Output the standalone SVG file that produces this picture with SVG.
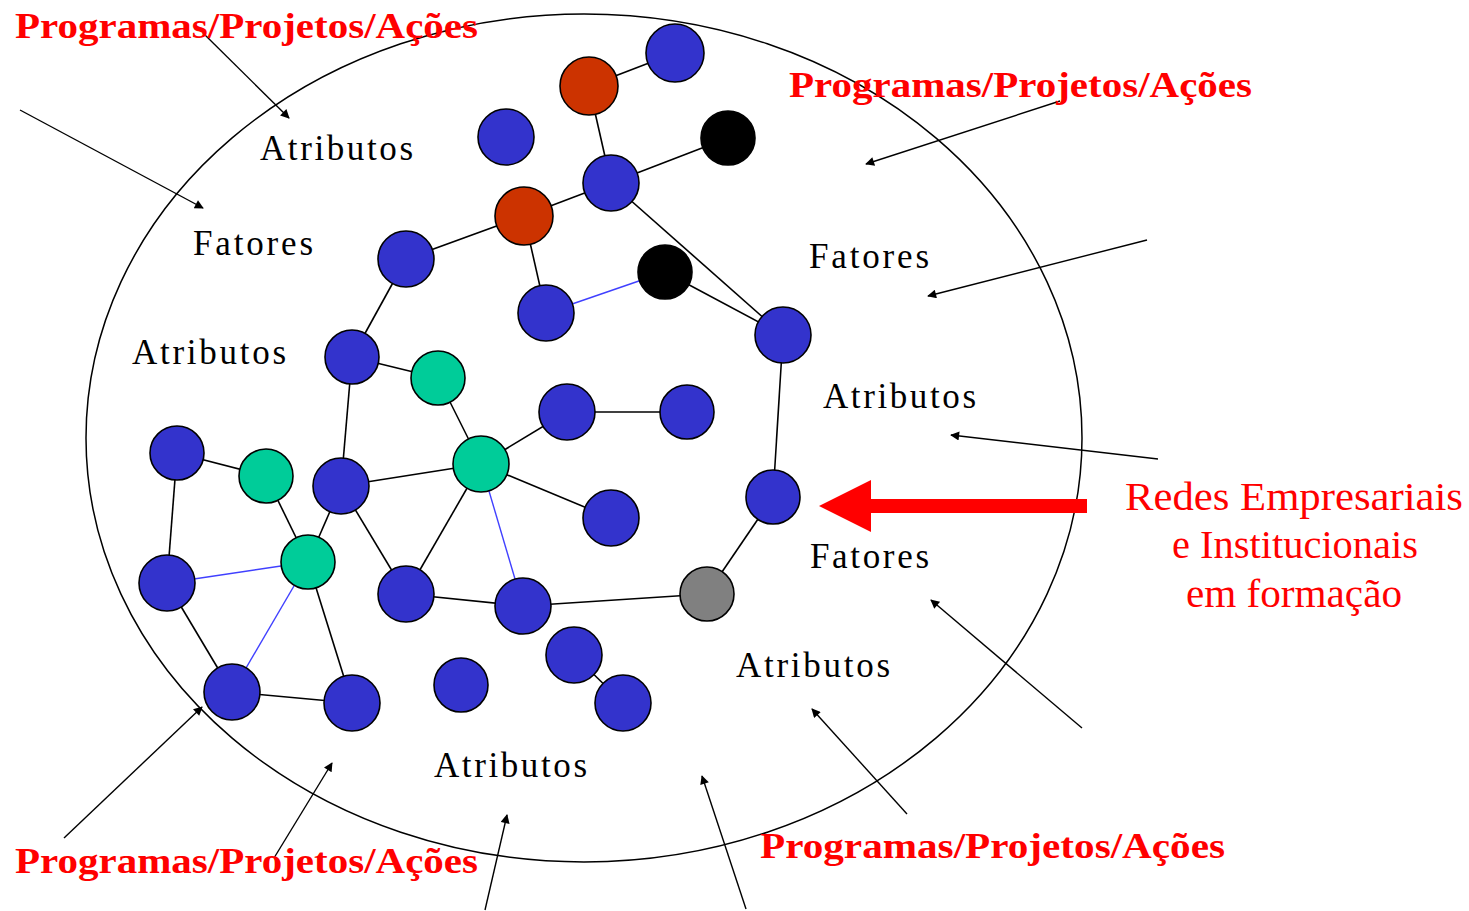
<svg xmlns="http://www.w3.org/2000/svg" width="1469" height="911" viewBox="0 0 1469 911">
<defs>
<style>
.bg{fill:#ffffff}
.outline{fill:none;stroke:#000;stroke-width:1.5}
.e{stroke:#000;stroke-width:1.6;fill:none}
.eb{stroke:#4040ff;stroke-width:1.4;fill:none}
.ptr{stroke:#000;stroke-width:1.4;fill:none;marker-end:url(#ah)}
.n circle{stroke:#000;stroke-width:1.6}
.blue{fill:#3333cc}
.red{fill:#cc3300}
.green{fill:#00cc99}
.black{fill:#000000}
.gray{fill:#808080}
.ppa{font-family:"Liberation Serif","Times New Roman",serif;font-weight:bold;font-size:35px;fill:#ff0000}
.lbl{font-family:"Liberation Serif","Times New Roman",serif;font-size:35px;fill:#000}
.redes{font-family:"Liberation Serif","Times New Roman",serif;font-size:41px;fill:#ff0000;text-anchor:middle}
</style>
<marker id="ah" viewBox="0 0 10 10" refX="9" refY="5" markerWidth="11" markerHeight="9" markerUnits="userSpaceOnUse" orient="auto">
<path d="M0,0 L10,5 L0,10 z" fill="#000"/>
</marker>
</defs>
<rect class="bg" x="0" y="0" width="1469" height="911"/>
<ellipse id="boundary" class="outline" cx="584" cy="438" rx="498" ry="424"/>

<g id="connectors">
<line class="e" x1="589" y1="86" x2="675" y2="53"/>
<line class="e" x1="589" y1="86" x2="611" y2="183"/>
<line class="e" x1="611" y1="183" x2="728" y2="138"/>
<line class="e" x1="611" y1="183" x2="524" y2="216"/>
<line class="e" x1="611" y1="183" x2="783" y2="335"/>
<line class="e" x1="524" y1="216" x2="406" y2="259"/>
<line class="e" x1="524" y1="216" x2="546" y2="313"/>
<line class="eb" x1="546" y1="313" x2="665" y2="272"/>
<line class="e" x1="665" y1="272" x2="783" y2="335"/>
<line class="e" x1="406" y1="259" x2="352" y2="357"/>
<line class="e" x1="352" y1="357" x2="438" y2="378"/>
<line class="e" x1="352" y1="357" x2="341" y2="486"/>
<line class="e" x1="438" y1="378" x2="481" y2="464"/>
<line class="e" x1="481" y1="464" x2="567" y2="412"/>
<line class="e" x1="567" y1="412" x2="687" y2="412"/>
<line class="e" x1="481" y1="464" x2="341" y2="486"/>
<line class="e" x1="481" y1="464" x2="611" y2="518"/>
<line class="e" x1="481" y1="464" x2="406" y2="594"/>
<line class="eb" x1="481" y1="464" x2="523" y2="606"/>
<line class="e" x1="341" y1="486" x2="406" y2="594"/>
<line class="e" x1="341" y1="486" x2="308" y2="562"/>
<line class="e" x1="177" y1="453" x2="266" y2="476"/>
<line class="e" x1="266" y1="476" x2="308" y2="562"/>
<line class="e" x1="177" y1="453" x2="167" y2="583"/>
<line class="eb" x1="167" y1="583" x2="308" y2="562"/>
<line class="e" x1="167" y1="583" x2="232" y2="692"/>
<line class="eb" x1="308" y1="562" x2="232" y2="692"/>
<line class="e" x1="308" y1="562" x2="352" y2="703"/>
<line class="e" x1="232" y1="692" x2="352" y2="703"/>
<line class="e" x1="406" y1="594" x2="523" y2="606"/>
<line class="e" x1="523" y1="606" x2="707" y2="594"/>
<line class="e" x1="707" y1="594" x2="773" y2="497"/>
<line class="e" x1="773" y1="497" x2="783" y2="335"/>
<line class="e" x1="574" y1="655" x2="623" y2="703"/>

<line class="ptr" x1="203" y1="33" x2="289" y2="118"/>
<line class="ptr" x1="20" y1="110" x2="203" y2="208"/>
<line class="ptr" x1="1060" y1="101" x2="866" y2="164"/>
<line class="ptr" x1="1147" y1="240" x2="928" y2="296"/>
<line class="ptr" x1="1158" y1="459" x2="951" y2="435"/>
<line class="ptr" x1="1082" y1="728" x2="931" y2="600"/>
<line class="ptr" x1="907" y1="814" x2="812" y2="709"/>
<line class="ptr" x1="746" y1="909" x2="702" y2="776"/>
<line class="ptr" x1="485" y1="910" x2="507" y2="815"/>
<line class="ptr" x1="274" y1="858" x2="332" y2="763"/>
<line class="ptr" x1="64" y1="838" x2="202" y2="707"/>

<path id="big-arrow" d="M1087,499 L871,499 L871,480 L819,506 L871,532 L871,513 L1087,513 z" fill="#ff0000"/>
</g>

<g id="n1" class="n"><circle class="blue" cx="675" cy="53" r="29"/></g>
<g id="n2" class="n"><circle class="red" cx="589" cy="86" r="29"/></g>
<g id="n3" class="n"><circle class="blue" cx="506" cy="137" r="28"/></g>
<g id="n4" class="n"><circle class="black" cx="728" cy="138" r="27"/></g>
<g id="n5" class="n"><circle class="blue" cx="611" cy="183" r="28"/></g>
<g id="n6" class="n"><circle class="red" cx="524" cy="216" r="29"/></g>
<g id="n7" class="n"><circle class="blue" cx="406" cy="259" r="28"/></g>
<g id="n8" class="n"><circle class="black" cx="665" cy="272" r="27"/></g>
<g id="n9" class="n"><circle class="blue" cx="546" cy="313" r="28"/></g>
<g id="n10" class="n"><circle class="blue" cx="783" cy="335" r="28"/></g>
<g id="n11" class="n"><circle class="blue" cx="352" cy="357" r="27"/></g>
<g id="n12" class="n"><circle class="green" cx="438" cy="378" r="27"/></g>
<g id="n13" class="n"><circle class="blue" cx="567" cy="412" r="28"/></g>
<g id="n14" class="n"><circle class="blue" cx="687" cy="412" r="27"/></g>
<g id="n15" class="n"><circle class="blue" cx="177" cy="453" r="27"/></g>
<g id="n16" class="n"><circle class="green" cx="266" cy="476" r="27"/></g>
<g id="n17" class="n"><circle class="blue" cx="341" cy="486" r="28"/></g>
<g id="n18" class="n"><circle class="green" cx="481" cy="464" r="28"/></g>
<g id="n19" class="n"><circle class="blue" cx="773" cy="497" r="27"/></g>
<g id="n20" class="n"><circle class="blue" cx="611" cy="518" r="28"/></g>
<g id="n21" class="n"><circle class="green" cx="308" cy="562" r="27"/></g>
<g id="n22" class="n"><circle class="blue" cx="167" cy="583" r="28"/></g>
<g id="n23" class="n"><circle class="blue" cx="406" cy="594" r="28"/></g>
<g id="n24" class="n"><circle class="blue" cx="523" cy="606" r="28"/></g>
<g id="n25" class="n"><circle class="gray" cx="707" cy="594" r="27"/></g>
<g id="n26" class="n"><circle class="blue" cx="574" cy="655" r="28"/></g>
<g id="n27" class="n"><circle class="blue" cx="461" cy="685" r="27"/></g>
<g id="n28" class="n"><circle class="blue" cx="623" cy="703" r="28"/></g>
<g id="n29" class="n"><circle class="blue" cx="232" cy="692" r="28"/></g>
<g id="n30" class="n"><circle class="blue" cx="352" cy="703" r="28"/></g>

<g id="labels">
<text class="ppa" x="15" y="38" textLength="463" lengthAdjust="spacingAndGlyphs">Programas/Projetos/Ações</text>
<text class="ppa" x="789" y="97" textLength="463" lengthAdjust="spacingAndGlyphs">Programas/Projetos/Ações</text>
<text class="ppa" x="15" y="873" textLength="463" lengthAdjust="spacingAndGlyphs">Programas/Projetos/Ações</text>
<text class="ppa" x="760" y="858" textLength="465" lengthAdjust="spacingAndGlyphs">Programas/Projetos/Ações</text>

<text class="lbl" x="260" y="160" textLength="153" lengthAdjust="spacing">Atributos</text>
<text class="lbl" x="193" y="255" textLength="120" lengthAdjust="spacing">Fatores</text>
<text class="lbl" x="132" y="364" textLength="154" lengthAdjust="spacing">Atributos</text>
<text class="lbl" x="809" y="268" textLength="120" lengthAdjust="spacing">Fatores</text>
<text class="lbl" x="823" y="408" textLength="153" lengthAdjust="spacing">Atributos</text>
<text class="lbl" x="810" y="568" textLength="119" lengthAdjust="spacing">Fatores</text>
<text class="lbl" x="736" y="677" textLength="154" lengthAdjust="spacing">Atributos</text>
<text class="lbl" x="434" y="777" textLength="153" lengthAdjust="spacing">Atributos</text>

<text class="redes" x="1294" y="510" textLength="338" lengthAdjust="spacingAndGlyphs">Redes Empresariais</text>
<text class="redes" x="1295" y="558" textLength="246" lengthAdjust="spacingAndGlyphs">e Institucionais</text>
<text class="redes" x="1294" y="607" textLength="216" lengthAdjust="spacingAndGlyphs">em formação</text>
</g>
</svg>
